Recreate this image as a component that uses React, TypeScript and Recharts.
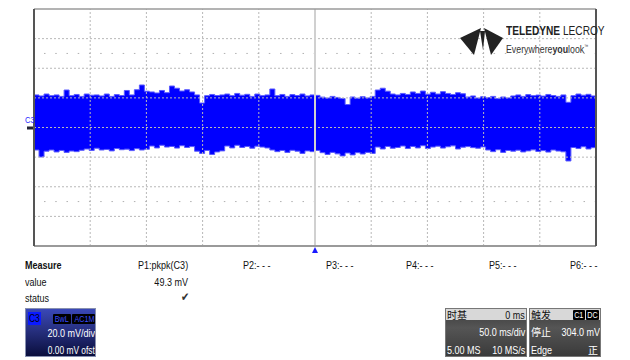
import React from "react";
import {
  ComposedChart,
  Area,
  XAxis,
  YAxis,
  ReferenceLine,
  ReferenceDot,
} from "recharts";

// C3 noise envelope, mV, read every ~4.46 ms across the 500 ms screen
const upper = [
  22, 21.3, 22.6, 21.5, 22, 21, 25.3, 21.5, 22.3, 21, 22.6, 21.8, 22, 21.3,
  22.6, 21, 22.2, 21.6, 25, 22, 25.5, 28.7, 24.5, 24, 23.3, 25, 23.5, 28, 26.5,
  24.6, 25.5, 24, 22, 16.5, 21.5, 22.3, 21.6, 22, 22.6, 21.5, 23, 21.8, 22.4,
  21, 22.6, 21.5, 22, 26, 21.5, 22.3, 21, 22.2, 21.6, 22.6, 21.3, 22, 21.7,
  20.5, 19.9, 21, 20.3, 19.5, 15.5, 20.6, 19.8, 20.8, 20, 21, 25.3, 26.5, 24.5,
  22.6, 22, 23, 22.3, 24, 23, 24.6, 22.5, 23.8, 22.6, 24.2, 23, 22.3, 23.5,
  22.8, 20.6, 21.3, 19.9, 20.8, 20.2, 21, 19.5, 20.6, 20, 21.3, 22, 21, 22.2,
  21.5, 21.9, 21.2, 22.3, 21.6, 21, 22, 17, 21.5, 22.6, 21.8, 22.4, 21.3, 22,
];
const lower = [
  -15.2, -19.9, -16, -15.2, -16.5, -15.5, -16.8, -15.9, -16.3, -15.4, -14.5,
  -15.5, -14, -15.2, -14.8, -15.8, -14.2, -15, -14.6, -15.6, -14.3, -15.2,
  -14.7, -12.5, -13.8, -12, -13.2, -12.8, -13.9, -12.3, -13.5, -12.9, -16,
  -17.5, -15.5, -18.2, -16.5, -15.8, -12.5, -13.8, -12, -13.5, -12.8, -14,
  -12.6, -13.2, -13.8, -15.2, -16.3, -15.5, -16.8, -15.4, -16, -17.5, -15.8,
  -16.3, -15.5, -17, -18.2, -16.8, -17.8, -19.2, -17.2, -18.5, -17, -17.9,
  -16.8, -17.5, -13.2, -14.5, -12.8, -14, -13.5, -12.5, -14.2, -12.8, -13.8,
  -12.3, -14.2, -13.2, -12.6, -13.9, -13, -12.4, -14.5, -13.3, -12.9, -13.6,
  -14, -13.1, -15.2, -16.3, -15, -16.8, -15.5, -16, -15.3, -16.5, -15.8, -15.1,
  -16.2, -15.6, -16.6, -15.2, -15.9, -16.4, -22.6, -13.5, -14.2, -13, -14.5,
  -13.6, -14,
];

const timeDivs = [-200, -150, -100, -50, 50, 100, 150, 200]; // ms
const voltDivs = [-60, -40, -20, 0, 20, 40, 60]; // mV
const measureSlots = ["P2:- - -", "P3:- - -", "P4:- - -", "P5:- - -", "P6:- - -"];
const measureX = [243, 326, 406, 489, 570];

const data = upper.map((hi, i) => ({
  t: -250 + (i * 500) / (upper.length - 1),
  range: [lower[i], hi],
}));

const font = "'Liberation Sans', Arial, sans-serif";
const cjk = "'Noto Sans CJK SC', sans-serif";

// condensed text: the scope UI uses a narrow face, squeeze Liberation Sans
const T = ({
  x,
  y,
  children,
  right = false,
  size = 11,
  squeeze = 0.82,
  style = {},
}: {
  x: number;
  y: number;
  children: React.ReactNode;
  right?: boolean;
  size?: number;
  squeeze?: number;
  style?: React.CSSProperties;
}) => (
  <div
    style={{
      position: "absolute",
      left: right ? x - 300 : x,
      top: y,
      width: right ? 300 : undefined,
      textAlign: right ? "right" : "left",
      fontSize: size,
      lineHeight: "12px",
      whiteSpace: "nowrap",
      ...style,
    }}
  >
    <span
      style={{
        display: "inline-block",
        transform: `scaleX(${squeeze})`,
        transformOrigin: right ? "right center" : "left center",
      }}
    >
      {children}
    </span>
  </div>
);

const Trigger = (props: any) => {
  const { cx, cy } = props;
  return <polygon points={`${cx - 3},${cy + 7} ${cx + 3},${cy + 7} ${cx},${cy + 1}`} fill="#1a1aff" />;
};

const C3Mark = (props: any) => {
  const { cy } = props;
  return (
    <g>
      <text x={25} y={cy - 4} fontSize={9} fill="#2a2aff" fontFamily={font} transform={`translate(25 0) scale(0.85 1) translate(-25 0)`}>
        C3
      </text>
      <rect x={27} y={cy - 1} width={6} height={3} fill="#223" />
    </g>
  );
};

const box = (left: number, width: number, bg: string, border: string): React.CSSProperties => ({
  position: "absolute",
  left,
  top: 308,
  width,
  height: 49,
  overflow: "hidden",
  border: `1px solid ${border}`,
  boxSizing: "border-box",
  background: bg,
  color: "#fff",
});

const tag = (left: number, top: number, fg: string, s: string, w: number) => (
  <div
    style={{
      position: "absolute",
      left,
      top,
      width: w,
      height: 10,
      background: "#000",
      color: fg,
      fontSize: 9,
      lineHeight: "10px",
      textAlign: "center",
      overflow: "hidden",
      borderRadius: 1,
    }}
  >
    <span style={{ display: "inline-block", transform: "scaleX(0.8)" }}>{s}</span>
  </div>
);

export default function App() {
  return (
    <div
      style={{
        position: "absolute",
        left: 0,
        top: 0,
        width: 630,
        height: 360,
        background: "#fff",
        fontFamily: font,
        color: "#111",
        overflow: "hidden",
      }}
    >
      <ComposedChart
        width={630}
        height={360}
        data={data}
        margin={{ top: 9, left: 34, right: 34, bottom: 114 }}
      >
        <XAxis type="number" dataKey="t" domain={[-250, 250]} hide />
        <YAxis type="number" domain={[-80, 80]} hide />
        {timeDivs.map((t) => (
          <ReferenceLine key={"x" + t} x={t} stroke="#b8b8b8" strokeDasharray="2 2" />
        ))}
        {voltDivs.map((v) => (
          <ReferenceLine key={"y" + v} y={v} stroke="#b8b8b8" strokeDasharray="2 2" />
        ))}
        <ReferenceLine y={50} stroke="#b0b0b0" strokeDasharray="1.5 9.74" strokeDashoffset={-10} />
        <ReferenceLine y={-50} stroke="#b0b0b0" strokeDasharray="1.5 9.74" strokeDashoffset={-10} />
        <ReferenceLine x={0} stroke="#d0d0d0" strokeWidth={2} />
        <ReferenceLine y={80} stroke="#9a9a9a" strokeWidth={1.5} />
        <ReferenceLine y={-80} stroke="#9a9a9a" strokeWidth={2} />
        <ReferenceLine x={-250} stroke="#555" strokeWidth={2} />
        <ReferenceLine x={250} stroke="#555" strokeWidth={2} />
        <Area
          type="stepAfter"
          dataKey="range"
          stroke="#5a5aff"
          strokeWidth={1}
          fill="#0000ff"
          fillOpacity={1}
          isAnimationActive={false}
        />
        <ReferenceDot x={0} y={-80} r={3} shape={Trigger} ifOverflow="visible" />
        <ReferenceDot x={-250} y={0} r={3} shape={C3Mark} ifOverflow="visible" />
      </ComposedChart>

      {/* Teledyne LeCroy logo */}
      <svg style={{ position: "absolute", left: 0, top: 0 }} width={630} height={70}>
        <polygon points="460,38 481,28 474,55" fill="#222" />
        <polygon points="503,38 484,28 491,55" fill="#222" />
        <polygon points="480,31 485,31 483,50" fill="#222" />
      </svg>
      <T x={506} y={25} size={13} squeeze={0.78} style={{ fontWeight: 700, color: "#222" }}>
        TELEDYNE <span style={{ fontWeight: 400 }}>LECROY</span>
      </T>
      <T x={506} y={40} size={11} squeeze={0.8} style={{ color: "#333" }}>
        Everywhere<b>you</b>look<sup style={{ fontSize: 5 }}>™</sup>
      </T>

      {/* measurement table */}
      <T x={25} y={259} style={{ fontWeight: 700 }}>Measure</T>
      <T x={25} y={276}>value</T>
      <T x={25} y={292}>status</T>
      <T x={138} y={259}>P1:pkpk(C3)</T>
      <T x={188} y={276} right>49.3 mV</T>
      <T x={181} y={291} size={12} style={{ color: "#333" }}>✔</T>
      {measureSlots.map((s, i) => (
        <T key={s} x={measureX[i]} y={259}>{s}</T>
      ))}

      {/* channel descriptor */}
      <div style={box(25, 71, "linear-gradient(#3a48b8, #273080 45%, #0a0e3c)", "#8890b0")}>
        <div style={{ position: "absolute", left: 2, top: 3, width: 13, height: 13, background: "#0a1aff", color: "#001", fontSize: 10, lineHeight: "13px", textAlign: "center" }}>
          <span style={{ display: "inline-block", transform: "scaleX(0.85)" }}>C3</span>
        </div>
        {tag(27, 5, "#3a4cff", "BwL", 18)}
        {tag(46, 5, "#3a4cff", "AC1M", 23)}
        <T x={69} y={18} right>20.0 mV/div</T>
        <T x={69} y={35} right squeeze={0.76}>0.00 mV ofst</T>
      </div>

      {/* timebase */}
      <div style={box(445, 82, "linear-gradient(#3c3c3c, #555 40%, #3a3a3a)", "#777")}>
        <div style={{ position: "absolute", left: 0, top: 0, width: 82, height: 11, background: "#d8d8d8", color: "#111" }}>
          <T x={1} y={0} size={10} squeeze={1} style={{ fontFamily: cjk }}>时基</T>
          <T x={79} y={0} right>0 ms</T>
        </div>
        <T x={79} y={17} right>50.0 ms/div</T>
        <T x={1} y={35}>5.00 MS</T>
        <T x={79} y={35} right>10 MS/s</T>
      </div>

      {/* trigger */}
      <div style={box(529, 72, "linear-gradient(#3c3c3c, #555 40%, #3a3a3a)", "#777")}>
        <div style={{ position: "absolute", left: 0, top: 0, width: 72, height: 11, background: "#d8d8d8", color: "#111" }}>
          <T x={1} y={0} size={10} squeeze={1} style={{ fontFamily: cjk }}>触发</T>
          {tag(43, 1, "#fff", "C1", 12)}
          {tag(56, 1, "#fff", "DC", 13)}
        </div>
        <T x={1} y={17} size={10} squeeze={1} style={{ fontFamily: cjk }}>停止</T>
        <T x={70} y={17} right>304.0 mV</T>
        <T x={1} y={35}>Edge</T>
        <T x={68} y={35} right size={10} squeeze={1} style={{ fontFamily: cjk }}>正</T>
      </div>
    </div>
  );
}
